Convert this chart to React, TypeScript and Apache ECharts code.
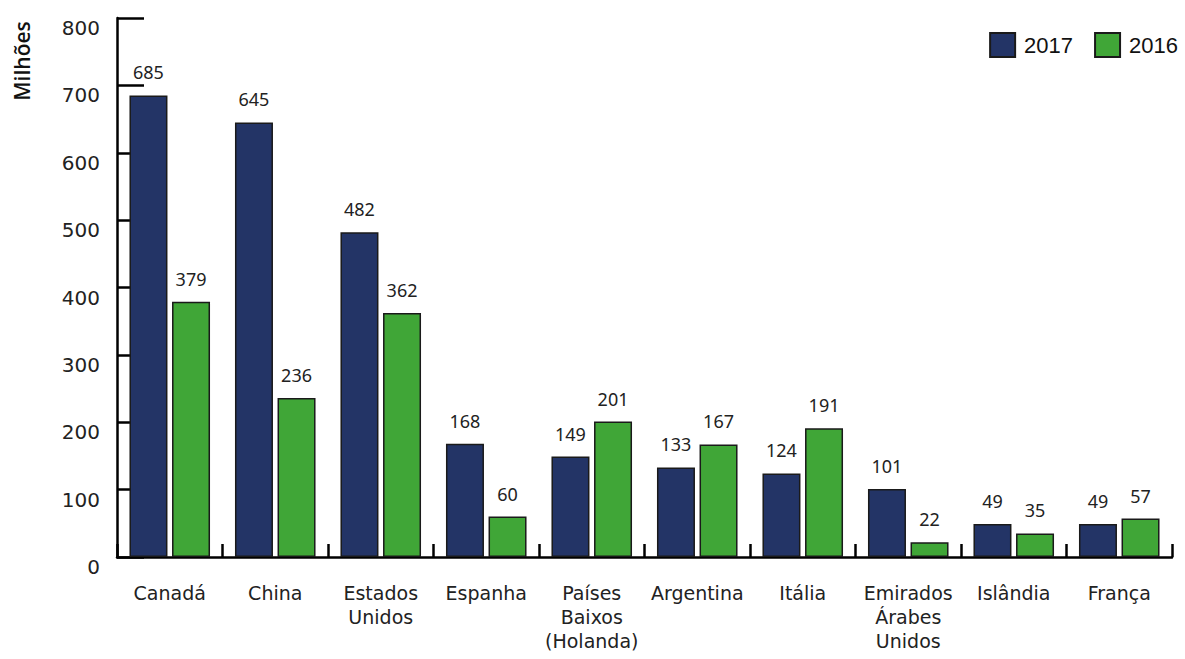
import React, { useEffect, useRef } from "react";
import * as echarts from "echarts";

const categories = [
  "Canadá",
  "China",
  "Estados\nUnidos",
  "Espanha",
  "Países\nBaixos\n(Holanda)",
  "Argentina",
  "Itália",
  "Emirados\nÁrabes\nUnidos",
  "Islândia",
  "França",
];
const values2017 = [685, 645, 482, 168, 149, 133, 124, 101, 49, 49];
const values2016 = [379, 236, 362, 60, 201, 167, 191, 22, 35, 57];
const yTicks = { min: 0, max: 800, interval: 100 };

const NAVY = "#233466";
const GREEN = "#40a637";
const BORDER = "#1a1a1a";

export default function App() {
  const ref = useRef<HTMLDivElement>(null);
  useEffect(() => {
    document.body.style.margin = "0";
    const chart = echarts.init(ref.current!, null, { renderer: "svg" });
    const labelCfg = {
      show: true,
      position: "top" as const,
      distance: 14,
      fontFamily: "Noto Sans",
      fontSize: 18,
      color: "#222",
    };
    chart.setOption({
      animation: false,
      backgroundColor: "#ffffff",
      grid: { left: 117, right: 13, top: 18, bottom: 102 },
      legend: {
        right: 2,
        top: 27,
        itemWidth: 25,
        itemHeight: 24,
        itemGap: 21,
        icon: "rect",
        textStyle: {
          fontFamily: "Liberation Sans",
          fontSize: 22,
          color: "#111",
          padding: [0, 0, 0, 4],
        },
        data: ["2017", "2016"],
      },
      graphic: [
        {
          type: "text",
          x: 22,
          y: 61,
          rotation: Math.PI / 2,
          style: {
            text: "Milhões",
            fontFamily: "Open Sans",
            fontWeight: 600,
            fontSize: 21,
            fill: "#111",
            align: "center",
            verticalAlign: "middle",
          },
        },
      ],
      xAxis: {
        type: "category",
        data: categories,
        boundaryGap: true,
        axisLine: { lineStyle: { color: "#000", width: 2.5 } },
        axisTick: { show: true, inside: true, length: 13, lineStyle: { color: "#000", width: 2.5 } },
        axisLabel: {
          interval: 0,
          margin: 24,
          fontFamily: "DejaVu Sans",
          fontSize: 19,
          lineHeight: 24,
          color: "#222",
        },
      },
      yAxis: {
        type: "value",
        min: yTicks.min,
        max: yTicks.max,
        interval: yTicks.interval,
        splitLine: { show: false },
        axisLine: { show: true, lineStyle: { color: "#000", width: 2.5 } },
        axisTick: { show: true, inside: true, length: 27, lineStyle: { color: "#000", width: 2.5 } },
        axisLabel: {
          margin: 17,
          fontFamily: "DejaVu Sans",
          fontSize: 20,
          color: "#222",
          verticalAlign: "top",
        },
      },
      series: [
        {
          name: "2017",
          type: "bar",
          data: values2017,
          barWidth: 38,
          barGap: "12%",
          itemStyle: { color: NAVY, borderColor: BORDER, borderWidth: 1.5 },
          label: labelCfg,
        },
        {
          name: "2016",
          type: "bar",
          data: values2016,
          barWidth: 38,
          barGap: "12%",
          itemStyle: { color: GREEN, borderColor: BORDER, borderWidth: 1.5 },
          label: labelCfg,
        },
      ],
    });
    return () => chart.dispose();
  }, []);
  return <div ref={ref} style={{ width: 1185, height: 659 }} />;
}
